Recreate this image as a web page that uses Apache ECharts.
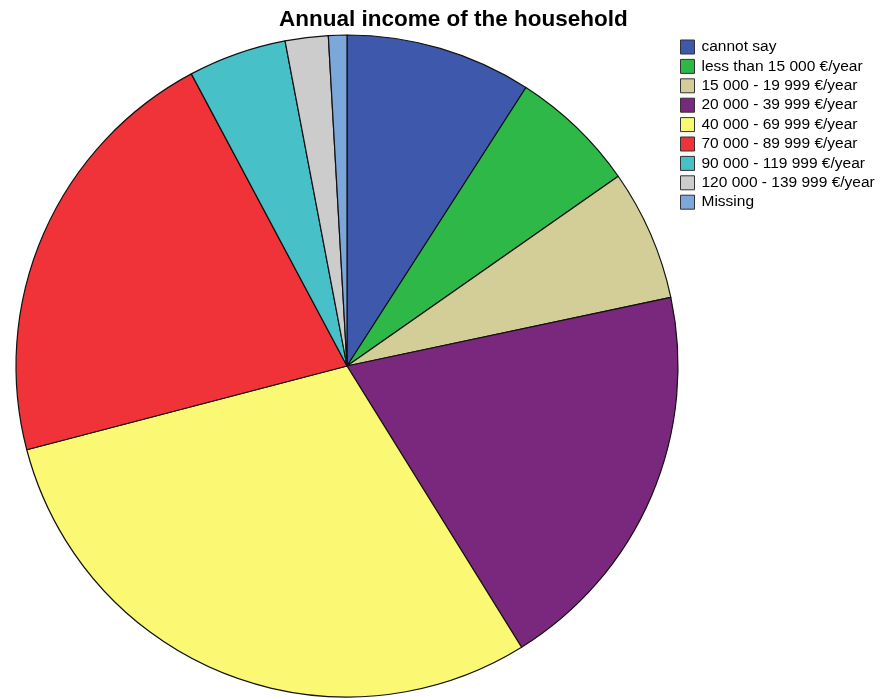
<!DOCTYPE html>
<html>
<head>
<meta charset="utf-8">
<script src="https://cdn.jsdelivr.net/npm/echarts@6/dist/echarts.min.js"></script>
<style>
  html, body { margin: 0; padding: 0; background: #fff; }
  #chart { width: 889px; height: 698px; }
</style>
</head>
<body>
<div id="chart"></div>
<script>
// Household income categories and their shares (percent of respondents)
const categories = [
  'cannot say',
  'less than 15 000 €/year',
  '15 000 - 19 999 €/year',
  '20 000 - 39 999 €/year',
  '40 000 - 69 999 €/year',
  '70 000 - 89 999 €/year',
  '90 000 - 119 999 €/year',
  '120 000 - 139 999 €/year',
  'Missing'
];
const shares = [9.1, 6.2, 6.4, 19.5, 29.8, 21.3, 4.8, 2.1, 0.9];
const sliceColors = [
  '#3E58AC', '#2EB848', '#D3CE97', '#79287E', '#FBF873',
  '#EF3338', '#48C0C7', '#CCCCCC', '#7BA7DA'
];

const chart = echarts.init(document.getElementById('chart'));
chart.setOption({
  animation: false,
  backgroundColor: '#ffffff',
  title: {
    text: 'Annual income of the household',
    left: 279,
    top: 8,
    padding: 0,
    textStyle: {
      fontFamily: 'Liberation Sans, Arial, sans-serif',
      fontSize: 22.5,
      fontWeight: 'bold',
      color: '#000'
    }
  },
  legend: {
    orient: 'vertical',
    left: 680,
    top: 39,
    padding: 0,
    icon: 'rect',
    itemWidth: 14,
    itemHeight: 14,
    itemGap: 3.4,
    data: categories,
    itemStyle: { borderColor: '#333', borderWidth: 1 },
    textStyle: {
      fontFamily: 'Liberation Sans, Arial, sans-serif',
      fontSize: 15.5,
      color: '#000',
      padding: [0, 0, 0, 2]
    }
  },
  series: [{
    type: 'pie',
    center: [347, 366],
    radius: 331,
    startAngle: 90,
    clockwise: true,
    label: { show: false },
    labelLine: { show: false },
    emphasis: { disabled: true },
    itemStyle: { borderColor: '#111', borderWidth: 1.2 },
    data: categories.map((name, i) => ({
      name,
      value: shares[i],
      itemStyle: { color: sliceColors[i] }
    }))
  }]
});
</script>
</body>
</html>
